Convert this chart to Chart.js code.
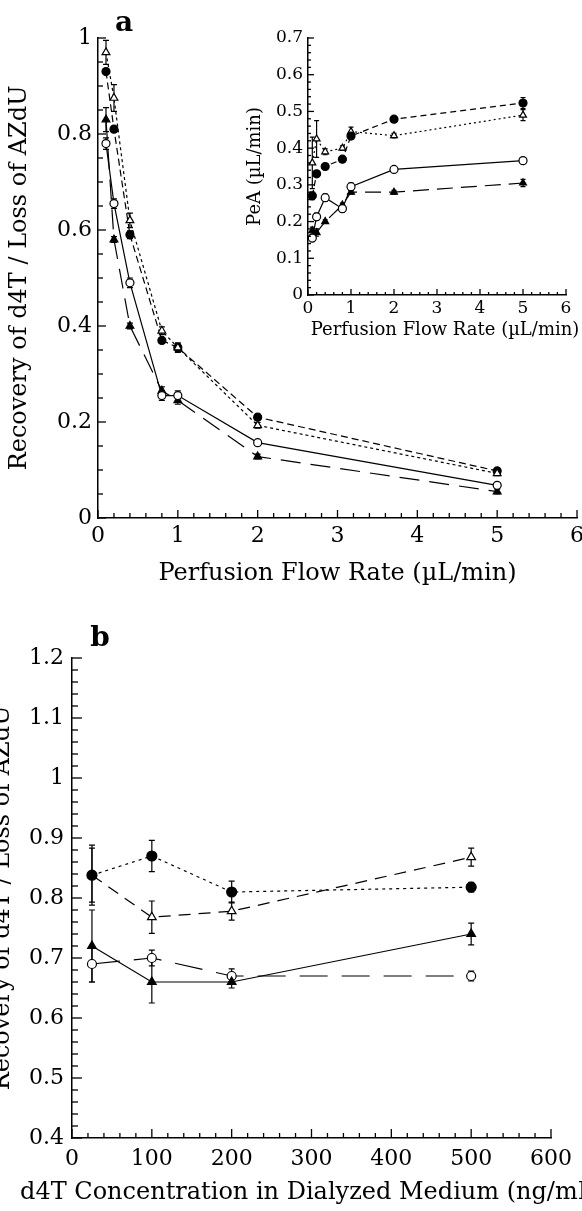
<!DOCTYPE html>
<html>
<head>
<meta charset="utf-8">
<script src="https://cdn.jsdelivr.net/npm/chart.js@4/dist/chart.umd.min.js"></script>
<style>
  html, body { margin: 0; padding: 0; background: #fff; }
  #wrap { position: relative; width: 582px; height: 1211px; overflow: hidden; background: #fff; }
  canvas { position: absolute; }
</style>
</head>
<body>
<div id="wrap">
  <canvas id="mainA" width="600" height="600" style="left:0;top:0"></canvas>
  <canvas id="inset" width="370" height="340" style="left:230px;top:10px"></canvas>
  <canvas id="panelB" width="600" height="611" style="left:0;top:600px"></canvas>
</div>
<script>
// --- panel a: recovery vs perfusion flow rate ---
const flowRates = [0.1, 0.2, 0.4, 0.8, 1, 2, 5];
const recOpenTri = [0.97, 0.875, 0.62, 0.39, 0.355, 0.193, 0.093];
const recOpenTriErr = [0.025, 0.028, 0.015, 0.008, 0.01, 0.006, 0.005];
const recFilledCirc = [0.93, 0.81, 0.59, 0.37, 0.355, 0.21, 0.098];
const recFilledCircErr = [0.006, 0.006, 0.008, 0.005, 0.008, 0.006, 0.005];
const recOpenCirc = [0.78, 0.655, 0.49, 0.255, 0.255, 0.157, 0.068];
const recOpenCircErr = [0.012, 0.01, 0.01, 0.01, 0.01, 0.005, 0.005];
const recFilledTri = [0.83, 0.58, 0.40, 0.265, 0.245, 0.128, 0.055];
const recFilledTriErr = [0.025, 0.006, 0.006, 0.008, 0.008, 0.005, 0.005];

// --- inset: PeA vs perfusion flow rate ---
const peaFilledCirc = [0.27, 0.33, 0.35, 0.37, 0.433, 0.479, 0.523];
const peaFilledCircErr = [0.01, 0.006, 0.006, 0.005, 0.008, 0.006, 0.015];
const peaOpenTri = [0.36, 0.425, 0.39, 0.40, 0.445, 0.434, 0.49];
const peaOpenTriErr = [0.07, 0.05, 0.008, 0.006, 0.012, 0.006, 0.015];
const peaOpenCirc = [0.155, 0.213, 0.265, 0.235, 0.295, 0.342, 0.366];
const peaOpenCircErr = [0.01, 0.01, 0.01, 0.01, 0.01, 0.005, 0.007];
const peaFilledTri = [0.175, 0.17, 0.20, 0.245, 0.28, 0.28, 0.305];
const peaFilledTriErr = [0.01, 0.01, 0.005, 0.005, 0.005, 0.005, 0.01];

// --- panel b: recovery vs d4T concentration ---
const concentrations = [25, 100, 200, 500];
const recBFilledCirc = [0.838, 0.87, 0.81, 0.818];
const recBFilledCircErr = [0.05, 0.026, 0.018, 0.008];
const recBOpenTri = [0.838, 0.768, 0.778, 0.868];
const recBOpenTriErr = [0.045, 0.027, 0.015, 0.015];
const recBFilledTri = [0.72, 0.66, 0.66, 0.74];
const recBFilledTriErr = [0.06, 0.035, 0.01, 0.018];
const recBOpenCirc = [0.69, 0.70, 0.67, 0.67];
const recBOpenCircErr = [0.03, 0.013, 0.012, 0.008];

const SERIF = "'DejaVu Serif', serif";

function series(xs, ys, errs, marker, filled, dash, radius) {
  return {
    data: xs.map((x, i) => ({ x, y: ys[i] })),
    errors: errs,
    showLine: true,
    clip: false,
    borderColor: "#000",
    borderWidth: 1.2,
    borderDash: dash,
    pointStyle: marker,
    pointRadius: radius,
    pointBackgroundColor: filled ? "#000" : "#fff",
    pointBorderColor: "#000",
    pointBorderWidth: 1.2,
  };
}

// error bars with small caps, drawn under the markers
const errorBars = {
  id: "errorBars",
  beforeDatasetsDraw(chart, args, opts) {
    const { ctx } = chart;
    const yScale = chart.scales.y;
    ctx.save();
    ctx.strokeStyle = "#000";
    ctx.lineWidth = 1.2;
    chart.data.datasets.forEach((ds, di) => {
      if (!ds.errors) return;
      chart.getDatasetMeta(di).data.forEach((pt, i) => {
        const v = ds.data[i].y, e = ds.errors[i];
        const y1 = yScale.getPixelForValue(v + e);
        const y2 = yScale.getPixelForValue(v - e);
        const c = opts.cap || 3;
        ctx.beginPath();
        ctx.moveTo(pt.x, y1); ctx.lineTo(pt.x, y2);
        ctx.moveTo(pt.x - c, y1); ctx.lineTo(pt.x + c, y1);
        ctx.moveTo(pt.x - c, y2); ctx.lineTo(pt.x + c, y2);
        ctx.stroke();
      });
    });
    ctx.restore();
  },
};

// inward major/minor tick marks
const inTicks = {
  id: "inTicks",
  afterDraw(chart, args, opts) {
    const { ctx, chartArea: a } = chart;
    ctx.save();
    ctx.strokeStyle = "#000";
    ctx.lineWidth = 1.3;
    ["x", "y"].forEach((k) => {
      const s = chart.scales[k], o = opts[k];
      const n = Math.round((s.max - s.min) / o.minor);
      for (let i = 0; i <= n; i++) {
        const v = s.min + i * o.minor;
        const r = v / o.major;
        const len = Math.abs(r - Math.round(r)) < 1e-6 ? o.majorLen : o.minorLen;
        const p = s.getPixelForValue(v);
        ctx.beginPath();
        if (k === "x") { ctx.moveTo(p, a.bottom); ctx.lineTo(p, a.bottom - len); }
        else { ctx.moveTo(a.left, p); ctx.lineTo(a.left + len, p); }
        ctx.stroke();
      }
    });
    ctx.restore();
  },
};

// axis titles and panel letter
const axisText = {
  id: "axisText",
  afterDraw(chart, args, opts) {
    const { ctx, chartArea: a } = chart;
    ctx.save();
    ctx.fillStyle = "#000";
    ctx.textAlign = "center";
    ctx.textBaseline = "middle";
    ctx.font = opts.font;
    ctx.fillText(opts.xTitle, (a.left + a.right) / 2 + (opts.xShift || 0), a.bottom + opts.xGap);
    ctx.save();
    ctx.translate(a.left - opts.yGap, (a.top + a.bottom) / 2);
    ctx.rotate(-Math.PI / 2);
    ctx.fillText(opts.yTitle, 0, 0);
    ctx.restore();
    if (opts.letter) {
      ctx.font = "bold 28px " + SERIF;
      ctx.fillText(opts.letter, a.left + opts.letterDx, a.top + opts.letterDy);
    }
    ctx.restore();
  },
};

const plainNum = (v) => String(+v.toFixed(3));

function axes(xMin, xMax, xStep, yMin, yMax, yStep, yWidth, xHeight, fontSize, xPad, yPad) {
  const tickFont = { family: SERIF, size: fontSize };
  return {
    x: {
      type: "linear", min: xMin, max: xMax,
      ticks: { stepSize: xStep, font: tickFont, color: "#000", padding: xPad, maxRotation: 0, callback: plainNum },
      grid: { display: false, drawTicks: false },
      border: { display: true, color: "#000", width: 1.5 },
      afterFit: (s) => { s.height = xHeight; },
    },
    y: {
      type: "linear", min: yMin, max: yMax,
      ticks: { stepSize: yStep, font: tickFont, color: "#000", padding: yPad, callback: plainNum },
      grid: { display: false, drawTicks: false },
      border: { display: true, color: "#000", width: 1.5 },
      afterFit: (s) => { s.width = yWidth; },
    },
  };
}

Chart.defaults.font.family = SERIF;
Chart.defaults.color = "#000";

const yTitleText = "Recovery of d4T / Loss of AZdU";
const flowTitle = "Perfusion Flow Rate (\u00b5L/min)";

new Chart(document.getElementById("mainA"), {
  type: "scatter",
  data: {
    datasets: [
      series(flowRates, recOpenTri, recOpenTriErr, "triangle", false, [3, 3], 4.5),
      series(flowRates, recFilledCirc, recFilledCircErr, "circle", true, [7, 4], 4),
      series(flowRates, recOpenCirc, recOpenCircErr, "circle", false, [], 4),
      series(flowRates, recFilledTri, recFilledTriErr, "triangle", true, [20, 10], 4.5),
    ],
  },
  options: {
    responsive: false,
    animation: false,
    devicePixelRatio: 1,
    layout: { padding: { left: 0, top: 38, right: 23, bottom: 0 } },
    scales: axes(0, 6, 1, 0, 1, 0.2, 98, 82, 22, 5, 6),
    plugins: {
      legend: { display: false },
      tooltip: { enabled: false },
      errorBars: { cap: 3 },
      inTicks: {
        x: { major: 1, minor: 0.2, majorLen: 8, minorLen: 5 },
        y: { major: 0.2, minor: 0.05, majorLen: 8, minorLen: 5 },
      },
      axisText: {
        font: "24px " + SERIF, xTitle: flowTitle, xGap: 56,
        yTitle: yTitleText, yGap: 78, letter: "a", letterDx: 26, letterDy: -14,
      },
    },
  },
  plugins: [errorBars, inTicks, axisText],
});

new Chart(document.getElementById("inset"), {
  type: "scatter",
  data: {
    datasets: [
      series(flowRates, peaFilledCirc, peaFilledCircErr, "circle", true, [6, 4], 4),
      series(flowRates, peaOpenTri, peaOpenTriErr, "triangle", false, [2, 3], 4),
      series(flowRates, peaOpenCirc, peaOpenCircErr, "circle", false, [], 4),
      series(flowRates, peaFilledTri, peaFilledTriErr, "triangle", true, [16, 8], 4),
    ],
  },
  options: {
    responsive: false,
    animation: false,
    devicePixelRatio: 1,
    layout: { padding: { left: 0, top: 28, right: 34, bottom: 0 } },
    scales: axes(0, 6, 1, 0, 0.7, 0.1, 78, 55, 17, 3, 5),
    plugins: {
      legend: { display: false },
      tooltip: { enabled: false },
      errorBars: { cap: 2.5 },
      inTicks: {
        x: { major: 1, minor: 0.2, majorLen: 6, minorLen: 3 },
        y: { major: 0.1, minor: 0.02, majorLen: 6, minorLen: 3 },
      },
      axisText: {
        font: "18px " + SERIF, xTitle: flowTitle, xGap: 35, xShift: 8,
        yTitle: "PeA (\u00b5L/min)", yGap: 53,
      },
    },
  },
  plugins: [errorBars, inTicks, axisText],
});

new Chart(document.getElementById("panelB"), {
  type: "scatter",
  data: {
    datasets: [
      series(concentrations, recBFilledCirc, recBFilledCircErr, "circle", true, [3, 4], 5),
      series(concentrations, recBOpenTri, recBOpenTriErr, "triangle", false, [12, 8], 5),
      series(concentrations, recBFilledTri, recBFilledTriErr, "triangle", true, [], 5),
      series(concentrations, recBOpenCirc, recBOpenCircErr, "circle", false, [28, 14], 4.5),
    ],
  },
  options: {
    responsive: false,
    animation: false,
    devicePixelRatio: 1,
    layout: { padding: { left: 0, top: 58, right: 49, bottom: 0 } },
    scales: axes(0, 600, 100, 0.4, 1.2, 0.1, 72, 73, 22, 8, 8),
    plugins: {
      legend: { display: false },
      tooltip: { enabled: false },
      errorBars: { cap: 3 },
      inTicks: {
        x: { major: 100, minor: 20, majorLen: 9, minorLen: 5 },
        y: { major: 0.1, minor: 0.02, majorLen: 10, minorLen: 6 },
      },
      axisText: {
        font: "24px " + SERIF, xTitle: "d4T Concentration in Dialyzed Medium (ng/mL)", xGap: 55,
        yTitle: yTitleText, yGap: 69, letter: "b", letterDx: 28, letterDy: -19,
      },
    },
  },
  plugins: [errorBars, inTicks, axisText],
});
</script>
</body>
</html>
